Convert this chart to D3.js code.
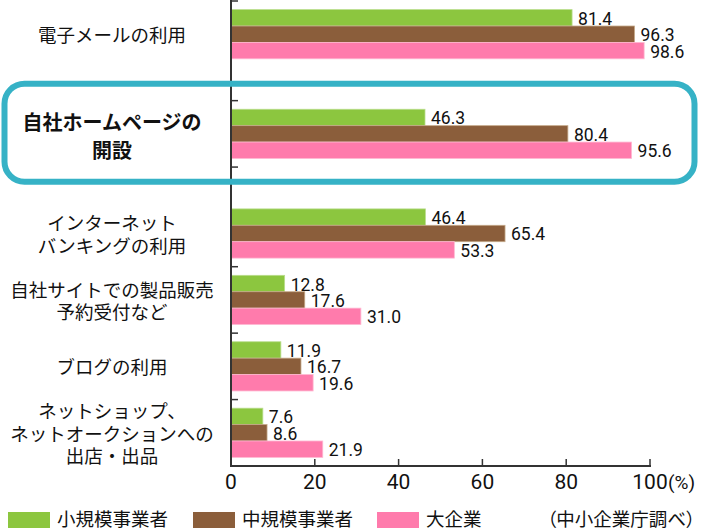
<!DOCTYPE html>
<html><head><meta charset="utf-8">
<script src="https://cdn.jsdelivr.net/npm/d3@7"></script>
<style>
html,body{margin:0;padding:0;background:#fff;}
svg{display:block;font-family:"Noto Sans CJK JP","Noto Sans",sans-serif;}
.num{font-family:Roboto,"Noto Sans",sans-serif;}
.palt{font-feature-settings:"palt";}
</style></head>
<body><svg id="c" width="705" height="531"></svg>
<script>
const categories = ["電子メールの利用","自社ホームページの\n開設","インターネット\nバンキングの利用","自社サイトでの製品販売\n予約受付など","ブログの利用","ネットショップ、\nネットオークションへの\n出店・出品"];
const seriesNames = ["小規模事業者","中規模事業者","大企業"];
const small = [81.4,46.3,46.4,12.8,11.9,7.6];
const medium = [96.3,80.4,65.4,17.6,16.7,8.6];
const large = [98.6,95.6,53.3,31.0,19.6,21.9];
const xTicks = [0,20,40,60,80,100];
const highlightIndex = 1;
const source = "（中小企業庁調べ）";

const colors = ["#8cc63f","#8b5e3b","#ff7bac"];
const strokes = ["#b9dd8c","#c4a888","#ffb8d2"];
const values = [small, medium, large];

const svg = d3.select("#c");
const x = d3.scaleLinear().domain([0,100]).range([231,650]);
const y = d3.scaleLinear().domain([0,7]).range([1,466]);
const pos = i => i + (i >= highlightIndex ? 0.5 : 0) + (i > highlightIndex ? 0.5 : 0);
const bandPx = y(1) - y(0);
const inner = d3.scaleBand().domain(d3.range(seriesNames.length)).range([0,bandPx]).paddingInner(0).paddingOuter(0.525);

const yTickUnits = [0];
categories.forEach((c,i)=>{
  if(i===highlightIndex){ yTickUnits.push(pos(i), pos(i)+1); }
  else if(i>0 && i-1!==highlightIndex){ yTickUnits.push(pos(i)); }
});
const uniq = Array.from(new Set(yTickUnits));

categories.forEach((c,i)=>{
  const g = svg.append("g").attr("transform",`translate(0,${y(pos(i))})`);
  values.forEach((arr,s)=>{
    g.append("rect")
      .attr("x", x(0)+0.5).attr("y", inner(s))
      .attr("width", x(arr[i]) - x(0) - 0.5).attr("height", inner.bandwidth())
      .attr("fill", colors[s]).attr("stroke", strokes[s]).attr("stroke-width",0.8);
    g.append("text").attr("class","num")
      .attr("x", x(arr[i]) + 6).attr("y", inner(s) + inner.bandwidth()/2 + 1)
      .attr("dominant-baseline","central")
      .attr("font-size",17.5).attr("fill","#111")
      .text(arr[i].toFixed(1));
  });
  const lines = c.split("\n");
  const bold = i===highlightIndex;
  const lh = bold ? 28 : 22.5;
  const cy = y(pos(i)+0.5) + (bold ? 2 : 0);
  lines.forEach((l,k)=>{
    svg.append("text").attr("text-anchor","middle")
      .attr("font-size", bold ? 20 : 18.5)
      .attr("font-weight", bold ? "bold" : "normal")
      .attr("fill","#111")
      .attr("x",112)
      .attr("y", cy + (k - (lines.length-1)/2)*lh)
      .attr("dominant-baseline","central")
      .text(l);
  });
});

svg.append("line").attr("x1",x(0)).attr("x2",x(0)).attr("y1",0).attr("y2",y(7)+1)
  .attr("stroke","#333").attr("stroke-width",2);
svg.selectAll(".yt").data(uniq).enter().append("line")
  .attr("x1",x(0)).attr("x2",x(0)+7).attr("y1",d=>y(d)).attr("y2",d=>y(d))
  .attr("stroke","#333").attr("stroke-width",1.5);

const axisY = y(7);
svg.append("line").attr("x1",x(0)-1).attr("x2",x(100)+1).attr("y1",axisY).attr("y2",axisY)
  .attr("stroke","#333").attr("stroke-width",2);
svg.selectAll(".xt").data(xTicks).enter().append("line")
  .attr("x1",d=>x(d)).attr("x2",d=>x(d)).attr("y1",axisY).attr("y2",axisY-7)
  .attr("stroke","#333").attr("stroke-width",1.5);
svg.selectAll(".xl").data(xTicks).enter().append("text").attr("class","num")
  .attr("x",d=>x(d)).attr("y",axisY+16).attr("text-anchor","middle")
  .attr("dominant-baseline","central").attr("font-size",21).attr("fill","#111")
  .text(d=>d);
svg.append("text").attr("class","num").attr("x",x(100)+18).attr("y",axisY+16)
  .attr("dominant-baseline","central").attr("font-size",19).attr("fill","#111").text("(%)");

svg.append("rect").attr("x",4.5).attr("y",y(pos(highlightIndex)) - 17)
  .attr("width",690).attr("height",98).attr("rx",20)
  .attr("fill","none").attr("stroke","#36b2c6").attr("stroke-width",6);

const legX = [8,193,377];
seriesNames.forEach((n,s)=>{
  svg.append("rect").attr("x",legX[s]).attr("y",512).attr("width",42).attr("height",16)
    .attr("fill",colors[s]);
  svg.append("text").attr("x",legX[s]+49).attr("y",518).attr("dominant-baseline","central")
    .attr("font-size",18.5).attr("fill","#111").text(n);
});
svg.append("text").attr("class","palt").attr("x",547).attr("y",518).attr("dominant-baseline","central")
  .attr("font-size",18.5).attr("fill","#111").text(source);
</script></body></html>
